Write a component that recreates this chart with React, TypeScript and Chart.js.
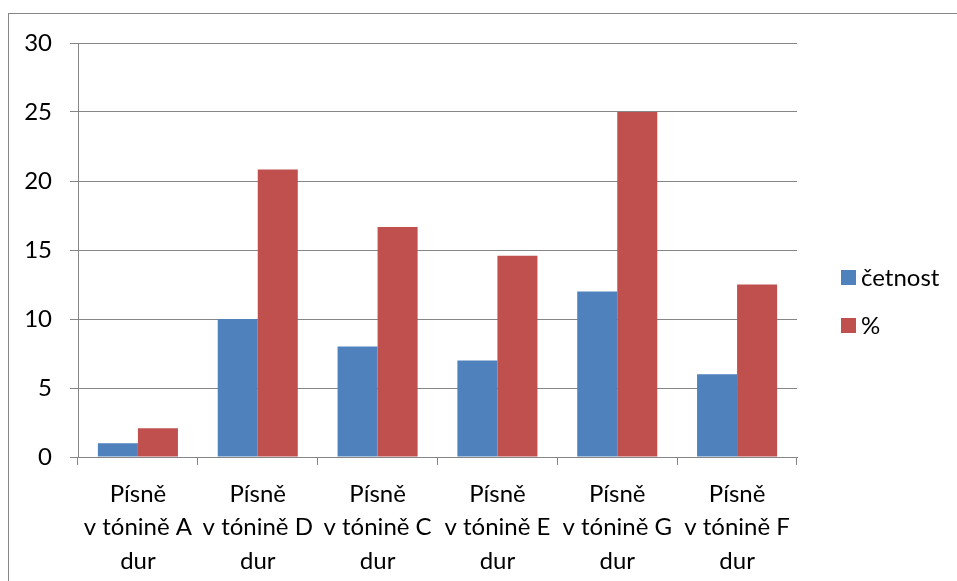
import React, { useEffect, useRef } from "react";
import { Chart, registerables } from "chart.js";

Chart.register(...registerables);

const categories: string[][] = [
  ["Písně", "v tónině A", "dur"],
  ["Písně", "v tónině D", "dur"],
  ["Písně", "v tónině C", "dur"],
  ["Písně", "v tónině E", "dur"],
  ["Písně", "v tónině G", "dur"],
  ["Písně", "v tónině F", "dur"],
];
const cetnost = [1, 10, 8, 7, 12, 6];
const procenta = [2.08, 20.83, 16.67, 14.58, 25, 12.5];
const seriesNames = ["četnost", "%"];
const yTicks = [0, 5, 10, 15, 20, 25, 30];

const FONT = "Lato";
const FONT_SIZE = 24;
const GRID = "#868686";

export default function App() {
  const ref = useRef<HTMLCanvasElement>(null);
  useEffect(() => {
    if (!ref.current) return;
    const framePlugin = {
      id: "frame",
      beforeDraw(chart: any) {
        const ctx = chart.ctx;
        ctx.save();
        ctx.fillStyle = "#ffffff";
        ctx.fillRect(0, 0, chart.width, chart.height);
        ctx.strokeStyle = GRID;
        ctx.lineWidth = 1;
        ctx.strokeRect(8.5, 13.5, 2000, 2000);
        ctx.restore();
      },
    };
    const legendPlugin = {
      id: "customLegend",
      afterDraw(chart: any) {
        const ctx = chart.ctx;
        ctx.save();
        ctx.font = `${FONT_SIZE}px ${FONT}`;
        ctx.textBaseline = "middle";
        ctx.textAlign = "left";
        chart.data.datasets.forEach((ds: any, i: number) => {
          const y = 270 + i * 48;
          ctx.fillStyle = ds.backgroundColor;
          ctx.fillRect(841, y, 15, 15);
          ctx.fillStyle = "#000000";
          ctx.fillText(ds.label, 861, y + 8);
        });
        ctx.restore();
      },
    };
    const chart = new Chart(ref.current, {
      type: "bar",
      data: {
        labels: categories,
        datasets: [
          { label: seriesNames[0], data: cetnost, backgroundColor: "#4F81BD" },
          { label: seriesNames[1], data: procenta, backgroundColor: "#C0504D" },
        ],
      },
      options: {
        animation: false,
        responsive: false,
        layout: { padding: { top: 43, right: 160, left: 0, bottom: 0 } },
        datasets: { bar: { categoryPercentage: 0.668, barPercentage: 1 } },
        plugins: { legend: { display: false }, tooltip: { enabled: false } },
        scales: {
          x: {
            grid: {
              offset: true,
              drawOnChartArea: false,
              drawTicks: true,
              tickLength: 8,
              color: GRID,
            },
            border: { color: GRID },
            ticks: {
              color: "#000000",
              font: { family: FONT, size: FONT_SIZE, lineHeight: 1.4 },
              padding: 12,
              maxRotation: 0,
              autoSkip: false,
            },
            afterFit(scale: any) {
              scale.height = 124;
              scale.paddingLeft = 0;
              scale.paddingRight = 0;
            },
          },
          y: {
            min: 0,
            max: 30,
            afterBuildTicks(scale: any) {
              scale.ticks = yTicks.map((v) => ({ value: v }));
            },
            grid: { color: GRID, tickLength: 8, drawTicks: true },
            border: { color: GRID },
            ticks: {
              color: "#000000",
              font: { family: FONT, size: FONT_SIZE },
              padding: 18,
            },
            afterFit(scale: any) {
              scale.width = 78;
              scale.paddingTop = 0;
              scale.paddingBottom = 0;
            },
          },
        },
      },
      plugins: [framePlugin, legendPlugin],
    });
    return () => chart.destroy();
  }, []);
  return (
    <div style={{ position: "fixed", left: 0, top: 0, width: 957, height: 581 }}>
      <canvas ref={ref} width={957} height={581} style={{ display: "block" }} />
    </div>
  );
}
